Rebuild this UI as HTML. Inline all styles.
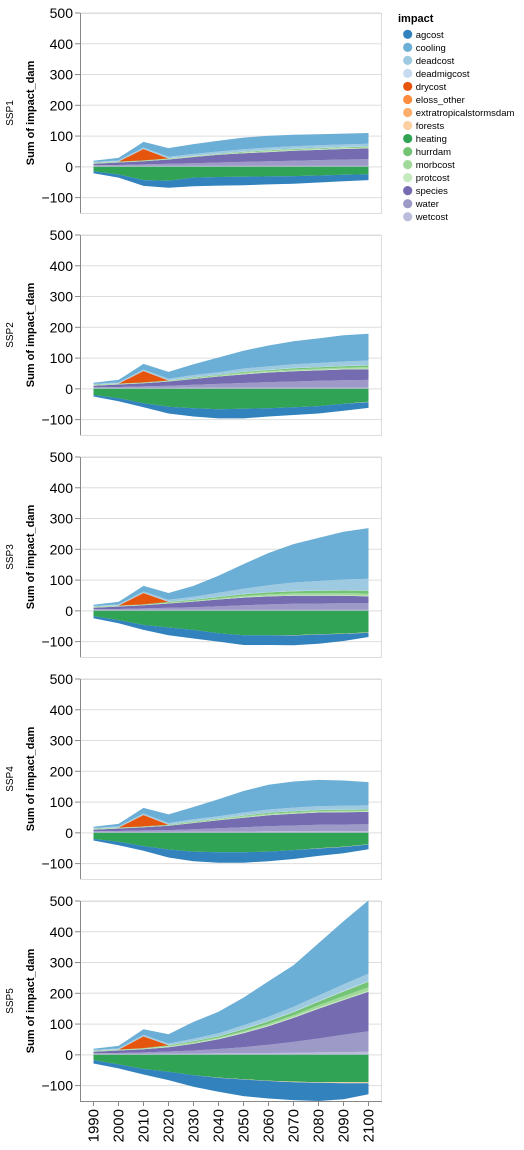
<!DOCTYPE html>
<html><head><meta charset="utf-8"><style>
html,body{margin:0;padding:0;background:#fff;}
svg{display:block;font-family:"Liberation Sans","DejaVu Sans",sans-serif;}
</style></head><body>
<svg id="chart" width="524" height="1150" viewBox="0 0 524 1150" xmlns="http://www.w3.org/2000/svg"></svg>
<script>
const years = [1990,2000,2010,2020,2030,2040,2050,2060,2070,2080,2090,2100];
const facets = ["SSP1","SSP2","SSP3","SSP4","SSP5"];
const yTicks = [-100,0,100,200,300,400,500];
const impacts = ["agcost","cooling","deadcost","deadmigcost","drycost","eloss_other","extratropicalstormsdam","forests","heating","hurrdam","morbcost","protcost","species","water","wetcost"];
const colors = ["#3182bd","#6baed6","#9ecae1","#c6dbef","#e6550d","#fd8d3c","#fdae6b","#fdd0a2","#31a354","#74c476","#a1d99b","#c7e9c0","#756bb1","#9e9ac8","#bcbddc"];
// values per facet (SSP1..SSP5), per year
const agcost = [
 [-7,-10,-19,-23,-28,-28,-28,-26,-25,-23,-21,-19],
 [-5,-10,-13,-22,-27,-30,-31,-27,-25,-24,-22,-19],
 [-7,-10,-16,-25,-28,-27,-32,-32,-32,-30,-23,-14],
 [-5,-11,-15,-26,-31,-34,-34,-31,-29,-24,-20,-15],
 [-11,-13,-18,-27,-38,-45,-54,-57,-58,-59,-52,-36]];
const cooling = [
 [4,8,18,28,32,35,38,38,37,36,35,35],
 [4,8,18,22,35,48,58,68,75,80,85,87],
 [4,8,18,22,35,55,80,105,125,140,155,165],
 [4,8,18,28,40,55,70,80,85,85,82,75],
 [4,8,18,30,55,70,90,115,135,170,205,238]];
const deadcost = [
 [2,3,4,5,6,7,7,8,8,8,8,8],
 [2,3,4,5,7,8,10,11,12,13,14,15],
 [2,3,4,6,9,13,17,22,27,31,35,38],
 [2,3,4,5,6,7,9,10,11,12,12,13],
 [2,3,4,5,7,9,11,13,15,18,21,24]];
const deadmigcost = [
 [1,1,1,1,1,1,1,1,1,1,1,1],[1,1,1,1,1,1,1,1,1,1,1,1],[1,1,1,1,1,1,1,1,1,1,1,1],
 [1,1,1,1,1,1,1,1,1,1,1,1],[1,1,1,1,1,1,2,2,2,2,2,2]];
const drycost = [
 [0,0,37,0,0,0,0,0,0,0,0,0],[0,0,37,0,0,0,0,0,0,0,0,0],[0,0,37,0,0,0,0,0,0,0,0,0],
 [0,0,37,0,0,0,0,0,0,0,0,0],[0,0,38,0,0,0,0,0,0,0,0,0]];
const eloss_other = [
 [0,0,0,0,0,0,0,0,0,0,0,0],[0,0,0,0,0,0,0,0,0,0,0,0],[0,0,0,0,0,0,0,0,0,0,0,0],
 [0,0,0,0,0,0,0,0,0,0,0,0],[0,0,0,0,0,0,0,0,0,0,0,0]];
const extratropicalstormsdam = [
 [0,0,0,0,0,0,0,0,0,0,0,0],[0,0,0,0,0,0,0,0,0,0,0,0],[0,0,0,0,0,0,0,0,0,0,0,0],
 [0,0,0,0,0,0,0,0,0,0,0,0],[0,0,0,0,0,0,0,0,0,0,0,0]];
const forests = [
 [0,0,0,0,0,0,0,0,0,0,0,0],[0,0,0,0,0,0,0,0,0,0,0,-1],[0,0,0,0,0,0,0,0,-1,-1,-1,-1],
 [0,0,0,0,0,0,0,0,0,-1,-1,-1],[0,0,0,0,0,-1,-1,-1,-2,-2,-3,-3]];
const heating = [
 [-14,-25,-43,-45,-35,-33,-32,-31,-30,-28,-26,-24],
 [-20,-30,-47,-58,-63,-66,-65,-63,-60,-56,-49,-42],
 [-17,-30,-46,-54,-62,-73,-79,-79,-79,-76,-74,-70],
 [-20,-29,-43,-54,-61,-63,-63,-61,-56,-50,-45,-37],
 [-17,-31,-46,-55,-66,-74,-79,-84,-87,-89,-89,-89]];
const hurrdam = [
 [1,1,1,1,1,1,2,2,2,2,2,2],[1,1,1,1,2,2,3,3,4,4,5,5],[1,1,1,2,3,4,5,6,7,8,8,9],
 [1,1,1,1,2,2,2,3,3,3,3,3],[1,1,1,2,3,4,6,8,10,12,15,18]];
const morbcost = [
 [1,1,1,1,1,1,1,2,2,2,2,2],[1,1,1,1,2,2,3,3,4,4,4,5],[1,1,1,2,2,3,4,5,6,6,7,7],
 [1,1,1,1,2,2,3,3,3,3,3,3],[1,1,2,2,3,3,4,5,6,8,10,12]];
const protcost = [
 [1,1,1,1,1,1,2,2,2,2,2,2],[1,1,1,1,1,1,2,2,2,2,2,2],[1,1,1,1,1,1,2,2,2,2,2,2],
 [1,1,1,1,1,1,2,2,2,2,2,2],[1,1,1,2,2,2,3,3,3,3,3,3]];
const species = [
 [5,8,10,14,20,25,28,30,32,33,34,35],
 [5,8,10,14,19,24,28,31,33,34,35,35],
 [5,8,10,14,18,22,25,26,26,25,24,22],
 [5,8,10,14,20,26,31,35,38,40,40,40],
 [5,8,10,14,22,32,45,60,78,97,113,128]];
const water = [
 [2,3,5,7,9,11,13,15,17,19,21,22],
 [2,3,5,7,9,12,15,18,20,22,24,25],
 [2,3,5,7,9,12,15,18,20,21,22,22],
 [2,3,5,6,8,11,14,17,19,21,22,23],
 [2,3,5,7,10,14,20,27,35,45,56,67]];
const wetcost = [
 [3,3,3,3,3,3,3,3,3,3,3,3],[3,3,3,3,4,4,4,4,4,4,4,4],[3,3,3,3,3,3,3,3,3,3,3,3],
 [3,3,3,3,4,4,4,5,5,5,5,5],[3,3,3,4,4,5,5,6,7,8,9,10]];

const seriesByImpact = {agcost,cooling,deadcost,deadmigcost,drycost,eloss_other,extratropicalstormsdam,forests,heating,hurrdam,morbcost,protcost,species,water,wetcost};
const NS = "http://www.w3.org/2000/svg";
const svg = document.getElementById("chart");
function mk(tag, attrs, parent){const e=document.createElementNS(NS,tag);for(const k in attrs)e.setAttribute(k,attrs[k]);(parent||svg).appendChild(e);return e;}
const X0 = 80, W = 301, H = 200, STEP = 222, TOP = 13, YMIN = -150, YMAX = 500;
function xPos(i){return 93.5 + i*25;}
function yPos(f, v){return TOP + f*STEP + (YMAX - v)*H/(YMAX-YMIN);}

facets.forEach((fname, f) => {
  const g = mk("g", {});
  
  
  const top = TOP + f*STEP;
  yTicks.forEach(t => {
    const l = mk("line", {x1:X0, x2:X0+W, y1:yPos(f,t), y2:yPos(f,t), stroke:"#ddd", "stroke-width":1}, g);
    
    
  });
  const border = mk("rect", {x:X0+0.5, y:top+0.5, width:W, height:H, fill:"none", stroke:"#ddd"}, g);
  
  
  const order = impacts.slice().reverse();
  const pos = years.map(()=>0), neg = years.map(()=>0);
  const layers = [];
  order.forEach(key => {
    const vals = seriesByImpact[key][f];
    const anyNeg = vals.some(v => v < 0);
    const lo = [], hi = [];
    vals.forEach((v, i) => {
      const isNeg = v < 0 || (v === 0 && anyNeg);
      if (!isNeg) { lo.push(pos[i]); pos[i] += v; hi.push(pos[i]); }
      else { lo.push(neg[i]); neg[i] += v; hi.push(neg[i]); }
    });
    layers.push({key, lo, hi});
  });
  layers.forEach(L => {
    let d = "";
    L.hi.forEach((v,i)=>{ d += (i?"L":"M") + xPos(i).toFixed(1) + "," + yPos(f,v).toFixed(1); });
    for (let i = L.lo.length-1; i >= 0; i--) d += "L" + xPos(i).toFixed(1) + "," + yPos(f,L.lo[i]).toFixed(1);
    d += "Z";
    const p = mk("path", {d, fill: colors[impacts.indexOf(L.key)]}, g);
    
    
  });
  const ax = mk("line", {x1:X0+0.5, x2:X0+0.5, y1:top, y2:top+H, stroke:"#888"}, g);
  
  
  yTicks.forEach(t => {
    const y = yPos(f,t);
    const tk = mk("line", {x1:X0-5, x2:X0, y1:y, y2:y, stroke:"#888"}, g);
    
    
    const tx = mk("text", {x:X0-7, y:y+5, "text-anchor":"end", "font-size":"14", fill:"#000"}, g);
    tx.textContent = (t < 0 ? "\u2212" + (-t) : t);
    
    
  });
  const yt = mk("text", {x:0, y:0, transform:`translate(34,${top+100}) rotate(-90)`, "text-anchor":"middle", "font-size":"11", "font-weight":"bold"}, g);
  yt.textContent = "Sum of impact_dam";
  
  
  const rt = mk("text", {x:0, y:0, transform:`translate(13,${top+100}) rotate(-90)`, "text-anchor":"middle", "font-size":"10"}, g);
  rt.textContent = fname;
  
  
});

const xg = mk("g", {});


const xb = TOP + 4*STEP + H;
const xl = mk("line", {x1:X0, x2:X0+W+1, y1:xb+0.5, y2:xb+0.5, stroke:"#888"}, xg);


years.forEach((yr, i) => {
  const x = xPos(i);
  const tk = mk("line", {x1:x, x2:x, y1:xb, y2:xb+5, stroke:"#888"}, xg);
  
  
  const t = mk("text", {x:0, y:0, transform:`translate(${x+5},${xb+8}) rotate(-90)`, "text-anchor":"end", "font-size":"15"}, xg);
  t.textContent = yr;
  
  
});

const lg = mk("g", {});


const lt = mk("text", {x:398, y:22, "font-size":"11", "font-weight":"bold"}, lg);
lt.textContent = "impact";


impacts.forEach((k, i) => {
  const y = 34.3 + i*13.03;
  const e = mk("g", {}, lg);
  
  
  mk("circle", {cx:407.7, cy:y, r:4.6, fill:colors[i]}, e);
  const t = mk("text", {x:415.7, y:y+3.5, "font-size":"9.5"}, e);
  t.textContent = k;
});
</script>
</body></html>
